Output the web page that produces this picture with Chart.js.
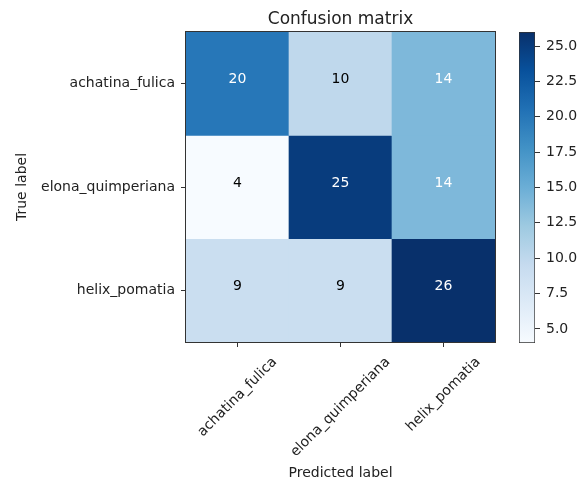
<!DOCTYPE html>
<html>
<head>
<meta charset="utf-8">
<script src="https://cdn.jsdelivr.net/npm/chart.js@4.4.1/dist/chart.umd.min.js"></script>
<style>
  html, body { margin: 0; padding: 0; background: #fff; }
  #wrap { position: relative; width: 582px; height: 479px; }
  #matrix { position: absolute; left: 0; top: 0; }
  #cbar { position: absolute; left: 500px; top: 0; }
</style>
</head>
<body>
<div id="wrap">
  <canvas id="matrix" width="582" height="479"></canvas>
  <canvas id="cbar" width="82" height="479"></canvas>
</div>
<script>
// labels and counts (rows = true label, columns = predicted label)
const classNames = ['achatina_fulica', 'elona_quimperiana', 'helix_pomatia'];
const rowAchatina = [20, 10, 14];
const rowElona = [4, 25, 14];
const rowHelix = [9, 9, 26];
const matrixRows = [rowAchatina, rowElona, rowHelix];
const colorbarTicks = [5, 7.5, 10, 12.5, 15, 17.5, 20, 22.5, 25];
const valueMin = 4;
const valueMax = 26;
const chartTitle = 'Confusion matrix';

// matplotlib "Blues"
const bluesStops = ['#f7fbff', '#deebf7', '#c6dbef', '#9ecae1', '#6baed6', '#4292c6', '#2171b5', '#08519c', '#08306b'];

function hexToRgb(h) {
    return [parseInt(h.slice(1, 3), 16), parseInt(h.slice(3, 5), 16), parseInt(h.slice(5, 7), 16)];
}

function blues(t) {
    t = Math.max(0, Math.min(1, t));
    const pos = t * (bluesStops.length - 1);
    const i = Math.min(Math.floor(pos), bluesStops.length - 2);
    const f = pos - i;
    const a = hexToRgb(bluesStops[i]);
    const b = hexToRgb(bluesStops[i + 1]);
    const c = a.map((v, k) => Math.round(v + (b[k] - v) * f));
    return 'rgb(' + c.join(',') + ')';
}

Chart.defaults.font.family = 'DejaVu Sans';
Chart.defaults.color = '#222';

const lineColor = '#333';
const thresh = Math.max(...matrixRows.flat()) / 2;

// frame round the heatmap + title centred on it
const framePlugin = {
    id: 'frame',
    afterDraw(chart) {
        const { ctx, chartArea: a } = chart;
        ctx.save();
        ctx.strokeStyle = lineColor;
        ctx.lineWidth = 1;
        ctx.strokeRect(Math.round(a.left) - 0.5, Math.round(a.top) - 0.5,
            Math.round(a.right - a.left) + 1, Math.round(a.bottom - a.top) + 1);
        ctx.font = '17px "DejaVu Sans"';
        ctx.fillStyle = '#222';
        ctx.textAlign = 'center';
        ctx.textBaseline = 'alphabetic';
        ctx.fillText(chartTitle, (a.left + a.right) / 2, 24);
        ctx.restore();
    }
};

// numbers inside the cells
const cellTextPlugin = {
    id: 'cellText',
    afterDatasetsDraw(chart) {
        const ctx = chart.ctx;
        ctx.save();
        ctx.font = '14px "DejaVu Sans"';
        ctx.textAlign = 'center';
        ctx.textBaseline = 'middle';
        matrixRows.forEach((row, r) => {
            const meta = chart.getDatasetMeta(r);
            meta.data.forEach((el, c) => {
                const p = el.getProps(['x', 'y', 'base'], true);
                const v = row[c];
                ctx.fillStyle = v > thresh ? '#fff' : '#000';
                ctx.fillText(String(v), p.x, (p.y + p.base) / 2 - 4);
            });
        });
        ctx.restore();
    }
};

// rotated x tick labels, centred under their tick like matplotlib
const xLabelPlugin = {
    id: 'xLabels',
    afterDraw(chart) {
        const ctx = chart.ctx;
        const xs = chart.scales.x;
        const bottom = chart.chartArea.bottom;
        ctx.save();
        ctx.font = '14px "DejaVu Sans"';
        ctx.fillStyle = '#222';
        ctx.textAlign = 'center';
        ctx.textBaseline = 'middle';
        classNames.forEach((name, i) => {
            const x = xs.getPixelForValue(i);
            const w = ctx.measureText(name).width;
            const h = 14 * 1.17;
            const half = (w + h) / (2 * Math.SQRT2);
            ctx.save();
            ctx.translate(x, bottom + 12 + half);
            ctx.rotate(-Math.PI / 4);
            ctx.fillText(name, 0, 0);
            ctx.restore();
        });
        ctx.restore();
    }
};

const datasets = matrixRows.map((row, r) => ({
    label: classNames[r],
    data: row.map(() => [r - 0.5, r + 0.5]),
    backgroundColor: row.map(v => blues((v - valueMin) / (valueMax - valueMin))),
    borderWidth: 0,
    grouped: false,
    barPercentage: 1,
    categoryPercentage: 1
}));

new Chart(document.getElementById('matrix'), {
    type: 'bar',
    data: {
        labels: classNames,
        datasets: datasets
    },
    options: {
        responsive: false,
        animation: false,
        devicePixelRatio: 1,
        layout: {
            padding: { left: 0, right: 87, top: 32, bottom: 0 }
        },
        scales: {
            x: {
                type: 'category',
                offset: true,
                grid: { display: true, drawOnChartArea: false, offset: false, tickLength: 5, color: lineColor },
                border: { display: false },
                ticks: { display: false },
                title: {
                    display: true,
                    text: 'Predicted label',
                    font: { size: 14 },
                    color: '#222',
                    padding: { top: 0, bottom: -3 }
                },
                afterFit: s => { s.height = 137; }
            },
            y: {
                type: 'linear',
                min: -0.5,
                max: 2.5,
                reverse: true,
                afterBuildTicks: s => { s.ticks = classNames.map((_, i) => ({ value: i })); },
                grid: { display: true, drawOnChartArea: false, tickLength: 5, color: lineColor },
                border: { display: false },
                ticks: {
                    callback: v => classNames[v],
                    font: { size: 14 },
                    color: '#222',
                    padding: 6
                },
                title: {
                    display: true,
                    text: 'True label',
                    font: { size: 14 },
                    color: '#222',
                    padding: { top: 14, bottom: 0 }
                },
                afterFit: s => { s.width = 186; }
            }
        },
        plugins: {
            legend: { display: false },
            tooltip: { enabled: false },
            title: { display: false }
        }
    },
    plugins: [cellTextPlugin, xLabelPlugin, framePlugin]
});

// colour bar
new Chart(document.getElementById('cbar'), {
    type: 'bar',
    data: {
        labels: [''],
        datasets: [{
            data: [[valueMin, valueMax]],
            backgroundColor: c => {
                const area = c.chart.chartArea;
                if (!area) return null;
                const g = c.chart.ctx.createLinearGradient(0, area.bottom, 0, area.top);
                bluesStops.forEach((col, i) => g.addColorStop(i / (bluesStops.length - 1), col));
                return g;
            },
            borderColor: lineColor,
            borderWidth: 1,
            borderSkipped: false,
            barPercentage: 1,
            categoryPercentage: 1
        }]
    },
    options: {
        responsive: false,
        animation: false,
        devicePixelRatio: 1,
        layout: {
            padding: { left: 19, right: 0, top: 32, bottom: 136 }
        },
        scales: {
            x: { display: false },
            y: {
                position: 'right',
                min: valueMin,
                max: valueMax,
                afterBuildTicks: s => { s.ticks = colorbarTicks.map(v => ({ value: v })); },
                grid: { display: true, drawOnChartArea: false, tickLength: 5, color: lineColor },
                border: { display: false },
                ticks: {
                    callback: v => v.toFixed(1),
                    font: { size: 14 },
                    color: '#222',
                    padding: 6
                },
                afterFit: s => { s.width = 47; }
            }
        },
        plugins: {
            legend: { display: false },
            tooltip: { enabled: false }
        }
    }
});
</script>
</body>
</html>
